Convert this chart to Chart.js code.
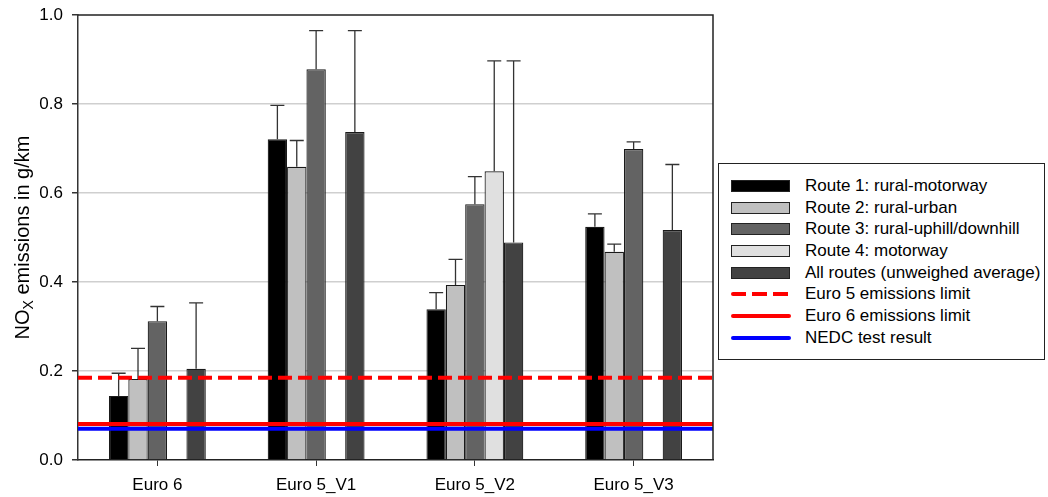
<!DOCTYPE html>
<html>
<head>
<meta charset="utf-8">
<script src="https://cdn.jsdelivr.net/npm/chart.js@4.4.1/dist/chart.umd.min.js"></script>
<style>
  html, body { margin: 0; padding: 0; background: #fff; }
  #wrap { position: relative; width: 1048px; height: 497px; font-family: "Liberation Sans", Arial, sans-serif; }
  #legend {
    position: absolute; left: 718px; top: 163px; width: 327px; height: 197px;
    border: 1px solid #222; box-sizing: border-box; padding: 11px 0 0 12px; background: #fff;
  }
  .row { display: flex; align-items: center; height: 21.7px; font-size: 17px; color: #000; white-space: nowrap; }
  .sw { width: 59px; height: 12px; box-sizing: border-box; border: 1px solid #222; margin-right: 15px; flex: none; }
  .ln { width: 60px; height: 4px; margin-right: 14px; flex: none; border-radius: 2px; }
</style>
</head>
<body>
<div id="wrap">
  <canvas id="chart" width="1048" height="497"></canvas>
  <div id="legend"></div>
</div>
<script>
const categories = ['Euro 6', 'Euro 5_V1', 'Euro 5_V2', 'Euro 5_V3'];
const yTicks = [0, 0.2, 0.4, 0.6, 0.8, 1.0];

const seriesNames = [
  'Route 1: rural-motorway',
  'Route 2: rural-urban',
  'Route 3: rural-uphill/downhill',
  'Route 4: motorway',
  'All routes (unweighed average)'
];
const seriesColors = ['#000000', '#c0c0c0', '#636363', '#e0e0e0', '#424242'];

const route1 = [0.144, 0.721, 0.339, 0.524];
const route2 = [0.182, 0.659, 0.393, 0.468];
const route3 = [0.312, 0.878, 0.575, 0.699];
const route4 = [null, null, 0.649, null];
const allRoutes = [0.205, 0.737, 0.489, 0.517];

// upper end of each error bar
const route1Upper = [0.195, 0.797, 0.376, 0.553];
const route2Upper = [0.251, 0.718, 0.451, 0.485];
const route3Upper = [0.345, 0.965, 0.637, 0.715];
const route4Upper = [null, null, 0.897, null];
const allRoutesUpper = [0.353, 0.965, 0.897, 0.664];

const limitNames = ['Euro 5 emissions limit', 'Euro 6 emissions limit', 'NEDC test result'];
const limitValues = [0.185, 0.081, 0.070];
const limitColors = ['#ff0000', '#ff0000', '#0000ff'];
const limitDashed = [true, false, false];

const seriesValues = [route1, route2, route3, route4, allRoutes];
const seriesUpper = [route1Upper, route2Upper, route3Upper, route4Upper, allRoutesUpper];

const overlay = {
  id: 'overlay',
  afterDatasetsDraw(chart) {
    const { ctx, chartArea: a, scales: { y } } = chart;
    ctx.save();
    // error bars (upper only)
    ctx.strokeStyle = '#333';
    ctx.lineWidth = 1.3;
    seriesUpper.forEach((ups, i) => {
      const meta = chart.getDatasetMeta(i);
      ups.forEach((v, j) => {
        if (v == null) return;
        const bar = meta.data[j];
        const top = y.getPixelForValue(v);
        ctx.beginPath();
        ctx.moveTo(bar.x, bar.y);
        ctx.lineTo(bar.x, top);
        ctx.moveTo(bar.x - 7, top);
        ctx.lineTo(bar.x + 7, top);
        ctx.stroke();
      });
    });
    // limit lines
    limitValues.forEach((v, i) => {
      const py = y.getPixelForValue(v);
      ctx.strokeStyle = limitColors[i];
      ctx.lineWidth = 4;
      ctx.setLineDash(limitDashed[i] ? [14, 6] : []);
      ctx.beginPath();
      ctx.moveTo(a.left, py);
      ctx.lineTo(a.right, py);
      ctx.stroke();
    });
    ctx.setLineDash([]);
    // frame top / right
    ctx.strokeStyle = '#222';
    ctx.lineWidth = 1.5;
    ctx.beginPath();
    ctx.moveTo(a.left, a.top);
    ctx.lineTo(a.right, a.top);
    ctx.lineTo(a.right, a.bottom);
    ctx.stroke();
    ctx.restore();
  },
  afterDraw(chart) {
    const { ctx, chartArea: a } = chart;
    ctx.save();
    ctx.translate(23, (a.top + a.bottom) / 2);
    ctx.rotate(-Math.PI / 2);
    ctx.fillStyle = '#000';
    ctx.textBaseline = 'middle';
    const big = '20px "Liberation Sans", Arial, sans-serif';
    const small = '14px "Liberation Sans", Arial, sans-serif';
    ctx.font = big;
    const w1 = ctx.measureText('NO').width;
    const w3 = ctx.measureText(' emissions in g/km').width;
    ctx.font = small;
    const w2 = ctx.measureText('X').width;
    let x = -(w1 + w2 + w3) / 2;
    ctx.font = big;
    ctx.fillText('NO', x, 0);
    x += w1;
    ctx.font = small;
    ctx.fillText('X', x, 6);
    x += w2;
    ctx.font = big;
    ctx.fillText(' emissions in g/km', x, 0);
    ctx.restore();
  }
};

const tickFont = { family: '"Liberation Sans", Arial, sans-serif', size: 17 };

new Chart(document.getElementById('chart'), {
  type: 'bar',
  data: {
    labels: categories,
    datasets: seriesValues.map((vals, i) => ({
      label: seriesNames[i],
      data: vals,
      backgroundColor: seriesColors[i],
      borderColor: '#1a1a1a',
      borderWidth: 1.2,
      categoryPercentage: 0.61,
      barPercentage: 1.0
    }))
  },
  options: {
    responsive: false,
    animation: false,
    devicePixelRatio: 1,
    layout: { padding: { top: 15, right: 335, left: 0, bottom: 0 } },
    plugins: { legend: { display: false }, tooltip: { enabled: false } },
    scales: {
      x: {
        grid: { display: true, drawOnChartArea: false, offset: false, tickColor: '#333', tickLength: 6 },
        border: { color: '#222', width: 1.5 },
        ticks: { color: '#000', font: tickFont, padding: 9, maxRotation: 0 },
        afterFit(scale) { scale.height = 37; }
      },
      y: {
        min: 0,
        max: 1.0,
        afterBuildTicks(scale) { scale.ticks = yTicks.map(v => ({ value: v })); },
        grid: { color: ctx => (ctx.tick && ctx.tick.value > 0 && ctx.tick.value < 1 ? '#cfcfcf' : 'rgba(0,0,0,0)'), lineWidth: 1.5, tickColor: '#333', tickLength: 6 },
        border: { color: '#333', width: 1.5 },
        ticks: { color: '#000', font: tickFont, padding: 9, callback: v => v.toFixed(1) },
        afterFit(scale) { scale.width = 78; scale.paddingTop = 0; scale.paddingBottom = 0; }
      }
    }
  },
  plugins: [overlay]
});

// legend
const legend = document.getElementById('legend');
seriesNames.forEach((name, i) => {
  const row = document.createElement('div');
  row.className = 'row';
  row.innerHTML = `<span class="sw" style="background:${seriesColors[i]}"></span><span>${name}</span>`;
  legend.appendChild(row);
});
limitNames.forEach((name, i) => {
  const row = document.createElement('div');
  row.className = 'row';
  const bg = limitDashed[i]
    ? `repeating-linear-gradient(90deg, ${limitColors[i]} 0 15px, transparent 15px 21px)`
    : limitColors[i];
  row.innerHTML = `<span class="ln" style="background:${bg}"></span><span>${name}</span>`;
  legend.appendChild(row);
});
</script>
</body>
</html>
